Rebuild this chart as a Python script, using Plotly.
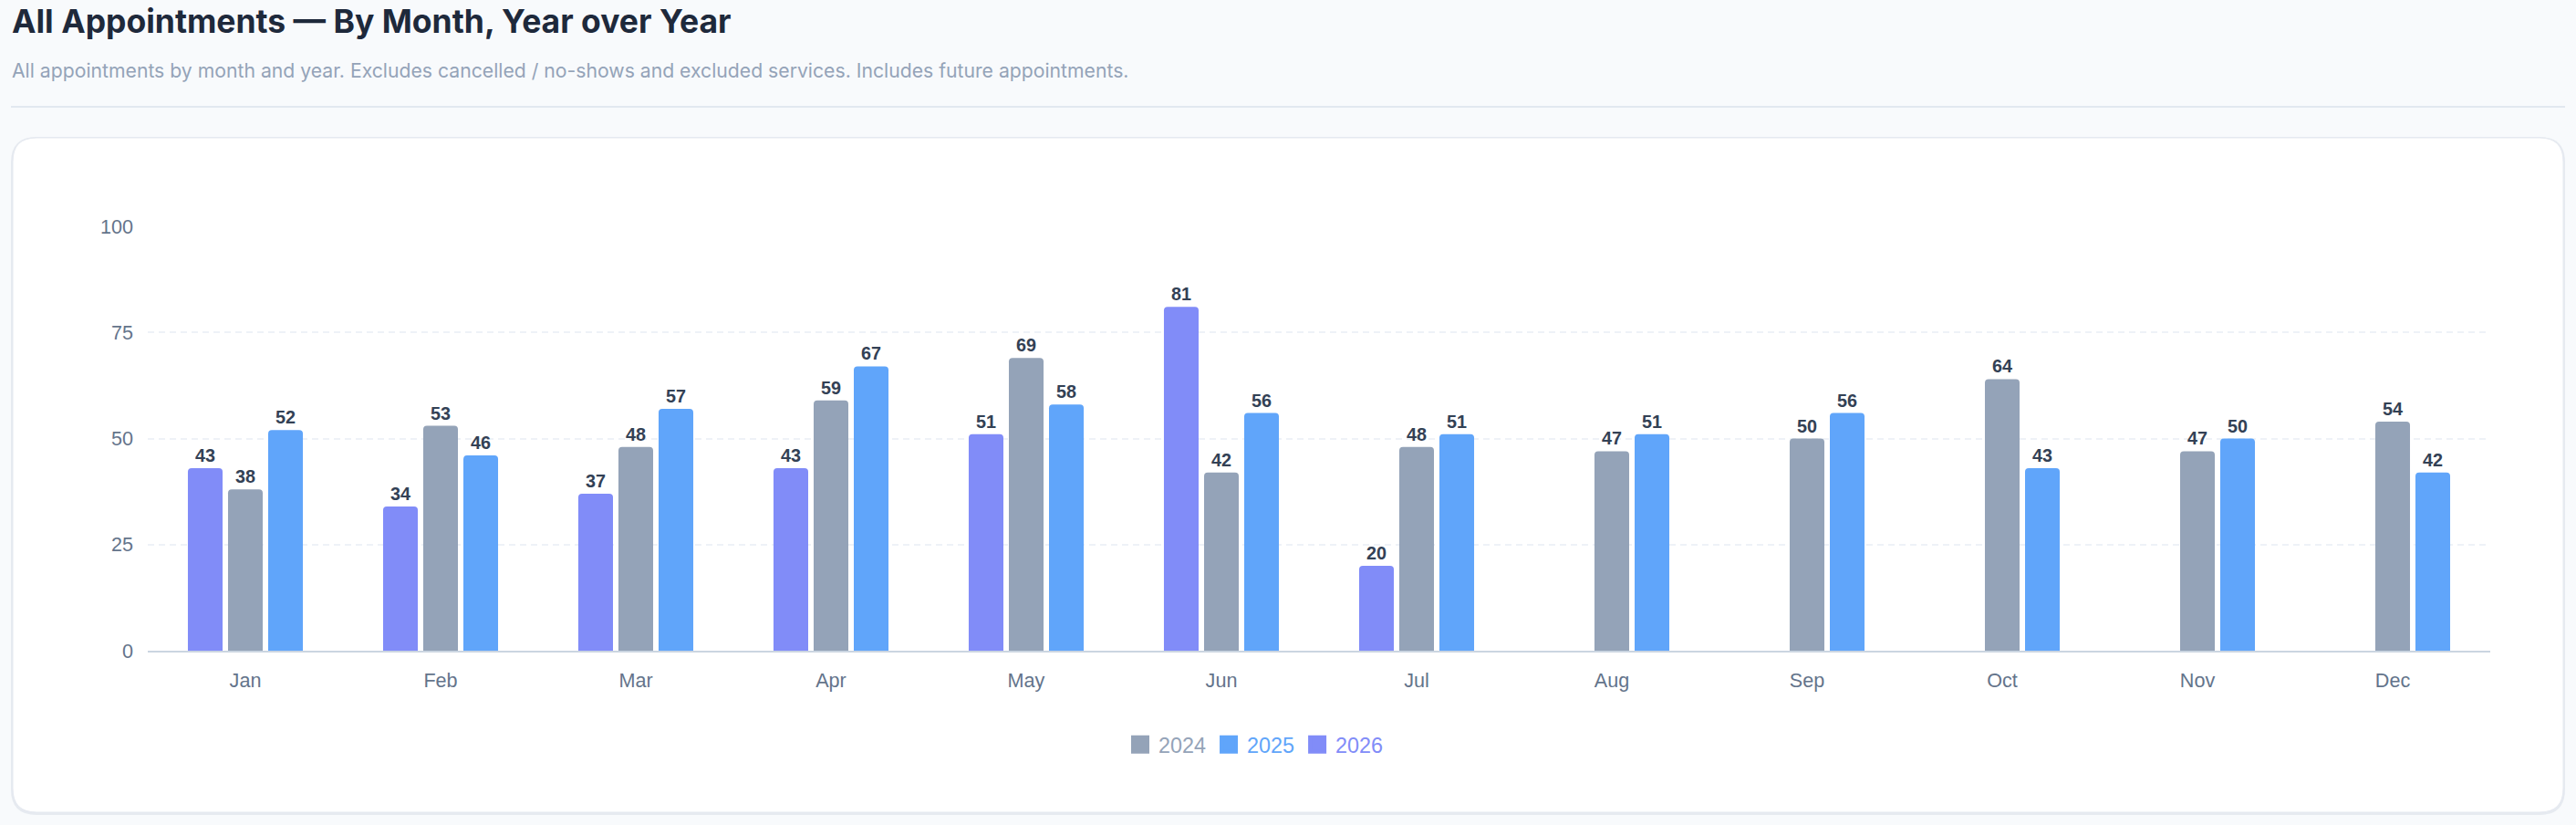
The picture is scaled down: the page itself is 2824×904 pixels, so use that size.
import plotly.graph_objects as go

# ---------------- data ----------------
months = ["Jan", "Feb", "Mar", "Apr", "May", "Jun", "Jul", "Aug", "Sep", "Oct", "Nov", "Dec"]
years = ["2026", "2024", "2025"]  # order of bars inside each month group
values_2024 = [38, 53, 48, 59, 69, 42, 48, 47, 50, 64, 47, 54]
values_2025 = [52, 46, 57, 67, 58, 56, 51, 51, 56, 43, 50, 42]
values_2026 = [43, 34, 37, 43, 51, 81, 20, None, None, None, None, None]
y_ticks = [0, 25, 50, 75, 100]

series = {"2024": values_2024, "2025": values_2025, "2026": values_2026}
colors = {"2024": "#94a3b8", "2025": "#60a5fa", "2026": "#818cf8"}
legend_rank = {"2024": 1, "2025": 2, "2026": 3}

TITLE = "All Appointments \u2014 By Month, Year over Year"
SUBTITLE = ("All appointments by month and year. Excludes cancelled / no-shows and "
            "excluded services. Includes future appointments.")

# ---------------- layout geometry (pixels) ----------------
FW, FH = 2824, 904
L, R, T, B = 162, 2730, 248, 713
W, H = R - L, B - T


def px(x):
    return (x - L) / W


def py(y):
    return (B - y) / H


CHART_FONT = "Liberation Sans, Arial, Helvetica, sans-serif"
UI_FONT = "Inter, Noto Sans, sans-serif"

fig = go.Figure()

for yr in years:
    fig.add_trace(go.Bar(
        x=months,
        y=series[yr],
        name=yr,
        legendgroup=yr,
        showlegend=False,
        marker=dict(color=colors[yr], line=dict(width=0)),
        text=[("" if v is None else str(v)) for v in series[yr]],
        textposition="outside",
        textfont=dict(family=CHART_FONT, size=19.8, color="#334155", weight="bold"),
        cliponaxis=False,
        hoverinfo="skip",
    ))

# legend entries (square swatches with coloured labels)
for yr in ["2024", "2025", "2026"]:
    fig.add_trace(go.Scatter(
        x=[None], y=[None], mode="markers",
        name=f"<span style='color:{colors[yr]}'>{yr}</span>",
        legendgroup=yr,
        legendrank=legend_rank[yr],
        marker=dict(symbol="square", size=16, color=colors[yr],
                    line=dict(color=colors[yr], width=4)),
        hoverinfo="skip",
    ))


def rounded_path(x0, y0, x1, y1, r):
    pts = [
        ("M", (x0 + r, y0)), ("L", (x1 - r, y0)),
        ("Q", (x1, y0), (x1, y0 + r)), ("L", (x1, y1 - r)),
        ("Q", (x1, y1), (x1 - r, y1)), ("L", (x0 + r, y1)),
        ("Q", (x0, y1), (x0, y1 - r)), ("L", (x0, y0 + r)),
        ("Q", (x0, y0), (x0 + r, y0)),
    ]
    s = ""
    for p in pts:
        cmd = p[0]
        coords = " ".join(f"{px(a):.6f},{py(b):.6f}" for a, b in p[1:])
        s += f"{cmd} {coords} "
    return s + "Z"


shapes = [
    # card shadow
    dict(type="path", xref="paper", yref="paper", layer="below",
         path=rounded_path(12, 150, 2812, 893, 28),
         fillcolor="#e6eaf0", line=dict(width=0)),
    # card
    dict(type="path", xref="paper", yref="paper", layer="below",
         path=rounded_path(14, 151, 2810, 890, 26),
         fillcolor="#ffffff", line=dict(color="#e5e9f0", width=1)),
    # header separator
    dict(type="line", xref="paper", yref="paper", layer="below",
         x0=px(12), x1=px(2812), y0=py(117), y1=py(117),
         line=dict(color="#e2e8f0", width=2)),
]

annotations = [
    dict(text=f"<b>{TITLE}</b>", xref="paper", yref="paper",
         x=px(11), y=py(23), xanchor="left", yanchor="middle", showarrow=False,
         font=dict(family=UI_FONT, size=35.5, color="#1e293b")),
    dict(text=SUBTITLE, xref="paper", yref="paper",
         x=px(11), y=py(77), xanchor="left", yanchor="middle", showarrow=False,
         font=dict(family=UI_FONT, size=21.2, color="#94a3b8")),
]

fig.update_layout(
    width=FW, height=FH,
    margin=dict(l=L, r=FW - R, t=T, b=FH - B, pad=0),
    paper_bgcolor="#f8fafc",
    plot_bgcolor="rgba(0,0,0,0)",
    barmode="group",
    bargap=0.383,
    bargroupgap=0.136,
    barcornerradius=4,
    showlegend=True,
    legend=dict(orientation="h", xanchor="center", yanchor="middle",
                x=px(1376), y=py(816),
                font=dict(family=CHART_FONT, size=23.4, color="#64748b"),
                bgcolor="rgba(0,0,0,0)", itemclick=False, itemdoubleclick=False),
    shapes=shapes,
    annotations=annotations,
    hovermode=False,
    xaxis=dict(
        type="category",
        categoryorder="array", categoryarray=months,
        showgrid=False, zeroline=False,
        showline=True, linecolor="#cbd5e1", linewidth=2,
        ticks="", ticklabelstandoff=12,
        tickfont=dict(family=CHART_FONT, size=21.6, color="#64748b"),
        fixedrange=True,
    ),
    yaxis=dict(
        range=[0, 100],
        tickvals=y_ticks,
        showgrid=True, gridcolor="#eef2f7", gridwidth=1.5, griddash="7px,5px",
        zeroline=False, showline=False,
        ticks="", ticklabelstandoff=15,
        tickfont=dict(family=CHART_FONT, size=21.6, color="#64748b"),
        fixedrange=True,
    ),
)

fig.write_html("out.html", config={"displayModeBar": False})
